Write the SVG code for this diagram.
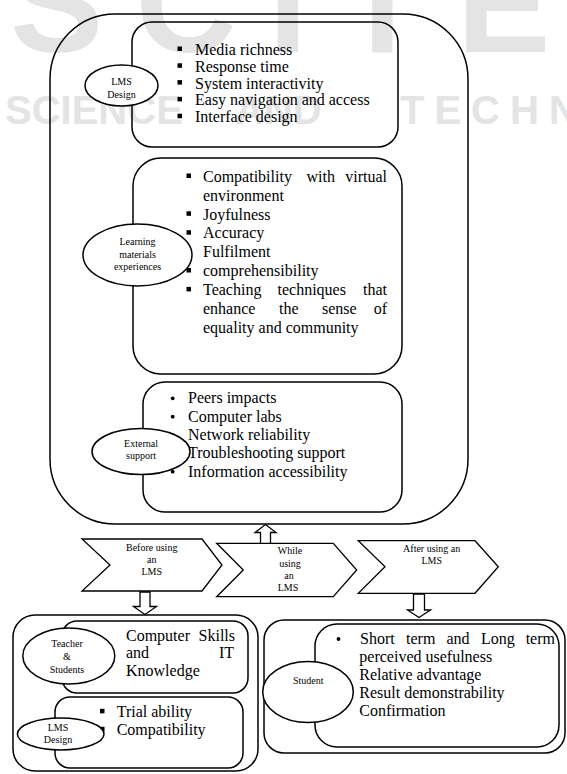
<svg xmlns="http://www.w3.org/2000/svg" width="567" height="774" viewBox="0 0 567 774">
<style>
.wm{font-family:"Liberation Sans",Arial,sans-serif;font-weight:bold;fill:#e4e4e4}
.box{fill:none;stroke:#000;stroke-width:1.5}
.ell{fill:#fff;stroke:#000;stroke-width:1.5}
.shape{fill:#fff;stroke:#000;stroke-width:1.3}
.t{font-family:"Liberation Serif","Times New Roman",serif;font-size:16px;fill:#000}
.s{font-family:"Liberation Serif","Times New Roman",serif;font-size:10px;fill:#000;text-anchor:middle}
.sq{fill:#000}
</style>
<rect width="567" height="774" fill="#fff"/>
<g id="watermark">
<text class="wm" x="10" y="52" font-size="140" letter-spacing="32">SCITE</text>
<text class="wm" y="124" font-size="40"><tspan x="5">SCIENCE</tspan><tspan x="235">AND</tspan><tspan x="400" letter-spacing="10">TECHNOLOGY</tspan></text>
</g>
<g id="outer">
<rect class="box" x="50" y="14" width="418" height="510" rx="65"/>
</g>
<g id="lms-design">
<rect class="box" x="132" y="22" width="266" height="125" rx="20"/>
<rect class="sq" x="177.5" y="46.5" width="4.5" height="4.5"/>
<rect class="sq" x="177.5" y="63.3" width="4.5" height="4.5"/>
<rect class="sq" x="177.5" y="80.1" width="4.5" height="4.5"/>
<rect class="sq" x="177.5" y="96.9" width="4.5" height="4.5"/>
<rect class="sq" x="177.5" y="113.7" width="4.5" height="4.5"/>
<text class="t" x="195" y="55">Media richness</text>
<text class="t" x="195" y="71.8">Response time</text>
<text class="t" x="195" y="88.6">System interactivity</text>
<text class="t" x="195" y="105.4">Easy navigation and access</text>
<text class="t" x="195" y="122.2">Interface design</text>
<ellipse class="ell" cx="121.5" cy="85.5" rx="36.5" ry="20.5"/>
<text class="s" x="121.5" y="85">LMS</text>
<text class="s" x="121.5" y="98">Design</text>
</g>
<g id="learning-materials">
<rect class="box" x="133" y="158" width="269" height="216" rx="28"/>
<rect class="sq" x="186.5" y="173.5" width="4.5" height="4.5"/>
<rect class="sq" x="186.5" y="211.3" width="4.5" height="4.5"/>
<rect class="sq" x="186.5" y="230.2" width="4.5" height="4.5"/>
<rect class="sq" x="186.5" y="268" width="4.5" height="4.5"/>
<rect class="sq" x="186.5" y="286.9" width="4.5" height="4.5"/>
<text class="t" y="181.7"><tspan x="203">Compatibility</tspan><tspan x="306.5">with</tspan><tspan x="387" text-anchor="end">virtual</tspan></text>
<text class="t" x="203" y="200.6">environment</text>
<text class="t" x="203" y="219.5">Joyfulness</text>
<text class="t" x="203" y="238.4">Accuracy</text>
<text class="t" x="203" y="257.3">Fulfilment</text>
<text class="t" x="203" y="276.2">comprehensibility</text>
<text class="t" y="295.1"><tspan x="203">Teaching</tspan><tspan x="277.5">techniques</tspan><tspan x="387" text-anchor="end">that</tspan></text>
<text class="t" y="314"><tspan x="203">enhance</tspan><tspan x="279">the</tspan><tspan x="322">sense</tspan><tspan x="387" text-anchor="end">of</tspan></text>
<text class="t" x="203" y="332.9">equality and community</text>
<ellipse class="ell" cx="137.5" cy="255" rx="54.5" ry="31"/>
<text class="s" x="137.5" y="245">Learning</text>
<text class="s" x="137.5" y="257.5">materials</text>
<text class="s" x="137.5" y="270">experiences</text>
</g>
<g id="external-support">
<rect class="box" x="143" y="382" width="259" height="130" rx="22"/>
<circle class="sq" cx="172.7" cy="398.3" r="1.9"/>
<circle class="sq" cx="172.7" cy="416.7" r="1.9"/>
<circle class="sq" cx="172.7" cy="435" r="1.9"/>
<circle class="sq" cx="172.7" cy="453.4" r="1.9"/>
<circle class="sq" cx="172.7" cy="471.7" r="1.9"/>
<text class="t" x="188" y="403.3">Peers impacts</text>
<text class="t" x="188" y="421.7">Computer labs</text>
<text class="t" x="188" y="440">Network reliability</text>
<text class="t" x="188" y="458.4">Troubleshooting support</text>
<text class="t" x="188" y="476.7">Information accessibility</text>
<ellipse class="ell" cx="141" cy="451.5" rx="49" ry="23"/>
<text class="s" x="141" y="446.5">External</text>
<text class="s" x="141" y="459">support</text>
</g>
<g id="before">
<polygon class="shape" points="82,539 202,539 222,565 202,591 82,591 110,565"/>
<text class="s" font-size="10.5" x="151.7" y="551">Before using</text>
<text class="s" font-size="10.5" x="151.7" y="563">an</text>
<text class="s" font-size="10.5" x="151.7" y="575">LMS</text>
</g>
<g id="while">
<polygon class="shape" points="216.7,543.3 333.3,543.3 356.7,570 333.3,596.7 216.7,596.7 243.3,570"/>
<text class="s" font-size="10.5" x="290" y="554">While</text>
<text class="s" font-size="10.5" x="290" y="566.5">using</text>
<text class="s" font-size="10.5" x="289" y="579">an</text>
<text class="s" font-size="10.5" x="288" y="591">LMS</text>
</g>
<g id="after">
<polygon class="shape" points="358.3,540.7 475,540.7 498.3,566.7 475,593.3 358.3,593.3 385,566.7"/>
<text class="s" font-size="10.5" x="431.7" y="552">After using an</text>
<text class="s" font-size="10.5" x="431.7" y="564">LMS</text>
</g>
<g id="connectors">
<polygon class="shape" points="265.5,524.5 276,532.5 270.5,532.5 270.5,543.3 260.5,543.3 260.5,532.5 255,532.5"/>
<polygon class="shape" points="140,592 150,592 150,606.5 156.5,606.5 145,614.5 133.5,606.5 140,606.5"/>
<polygon class="shape" points="413.5,594 424.5,594 424.5,610 430.5,610 419,617.5 407.5,610 413.5,610"/>
</g>
<g id="before-group">
<rect class="box" x="13" y="615" width="245" height="156" rx="22"/>
<rect class="box" x="62" y="621" width="186" height="72" rx="15"/>
<text class="t" y="641"><tspan x="126">Computer</tspan><tspan x="235" text-anchor="end">Skills</tspan></text>
<text class="t" y="658.3"><tspan x="126">and</tspan><tspan x="234" text-anchor="end">IT</tspan></text>
<text class="t" x="126" y="675.6">Knowledge</text>
<ellipse class="ell" cx="68.8" cy="656" rx="46" ry="28"/>
<text class="s" x="67" y="647">Teacher</text>
<text class="s" x="67" y="660">&amp;</text>
<text class="s" x="67" y="672.5">Students</text>
<rect class="box" x="55" y="697" width="188" height="71" rx="15"/>
<rect class="sq" x="100" y="708.8" width="4.5" height="4.5"/>
<rect class="sq" x="100" y="726.8" width="4.5" height="4.5"/>
<text class="t" x="116.7" y="717">Trial ability</text>
<text class="t" x="116.7" y="735">Compatibility</text>
<ellipse class="ell" cx="60.7" cy="734" rx="43.3" ry="16"/>
<text class="s" x="58" y="731">LMS</text>
<text class="s" x="58" y="742.5">Design</text>
</g>
<g id="after-group">
<rect class="box" x="264" y="620" width="301" height="133" rx="20"/>
<rect class="box" x="315" y="624" width="244" height="123" rx="22"/>
<circle class="sq" cx="338.5" cy="639" r="1.9"/>
<circle class="sq" cx="338.5" cy="675" r="1.9"/>
<circle class="sq" cx="338.5" cy="693" r="1.9"/>
<circle class="sq" cx="341" cy="711" r="1.9"/>
<text class="t" y="644"><tspan x="360">Short</tspan><tspan x="406">term</tspan><tspan x="446.5">and</tspan><tspan x="481">Long</tspan><tspan x="555" text-anchor="end">term</tspan></text>
<text class="t" x="359.3" y="662">perceived usefulness</text>
<text class="t" x="359.3" y="680">Relative advantage</text>
<text class="t" x="359.3" y="698">Result demonstrability</text>
<text class="t" x="359.3" y="716">Confirmation</text>
<ellipse class="ell" cx="308" cy="692" rx="45.3" ry="30.5"/>
<text class="s" font-size="13" x="308.3" y="684">Student</text>
</g>
</svg>
